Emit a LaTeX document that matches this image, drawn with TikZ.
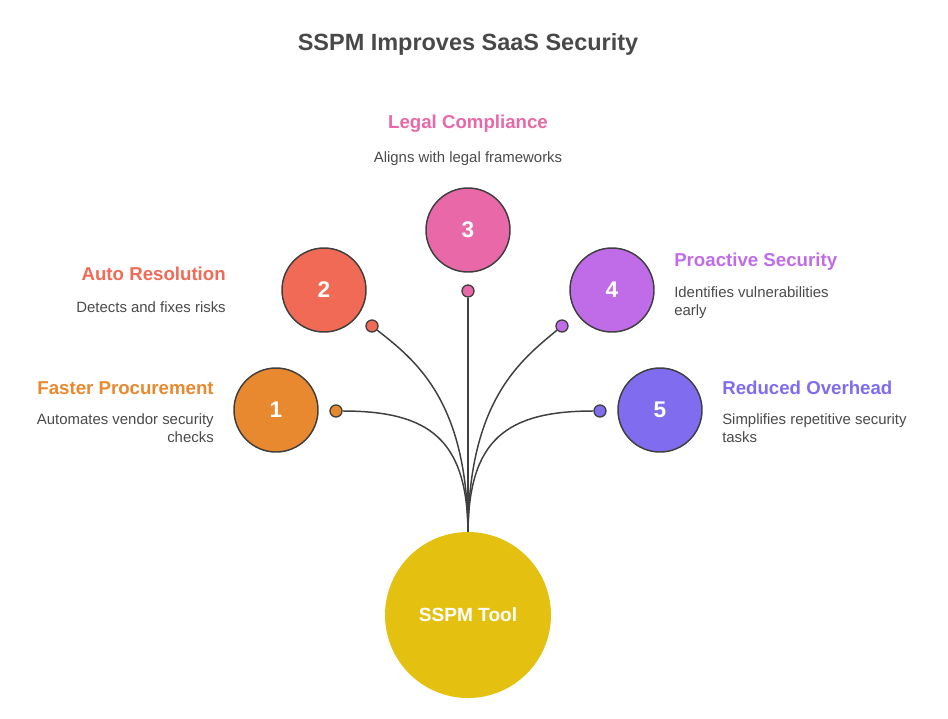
\documentclass[tikz,border=0pt]{standalone}
\usepackage{fontspec}
\setmainfont{Liberation Sans}
\usepackage{tikz}

\definecolor{ink}{HTML}{484848}
\definecolor{textgray}{HTML}{4A4A4A}
\definecolor{edge}{HTML}{3F3F3F}
\definecolor{toolyellow}{HTML}{E4C111}
\definecolor{coral1}{HTML}{E8892F}
\definecolor{coral2}{HTML}{F16A55}
\definecolor{coral3}{HTML}{E868A8}
\definecolor{coral4}{HTML}{C06CE8}
\definecolor{coral5}{HTML}{7F6CEE}

\tikzset{
  numcircle/.style={circle, draw=edge, line width=1.1pt, minimum size=63pt, inner sep=0pt,
    text=white, font=\bfseries\fontsize{17}{20}\selectfont},
  dotcircle/.style={circle, draw=edge, line width=1pt, minimum size=9pt, inner sep=0pt},
  conn/.style={draw=edge, line width=1.1pt},
  heading/.style={inner sep=0pt, font=\bfseries\fontsize{14}{17}\selectfont},
  descr/.style={inner sep=0pt, text=textgray, font=\fontsize{11.2}{13.5}\selectfont}
}

\begin{document}
\begin{tikzpicture}[x=0.75pt,y=-0.75pt]
                \useasboundingbox (0,0) rectangle (948,718);
                \node[text=ink, font=\bfseries\fontsize{17.6}{21}\selectfont] (title) at (468,44) {SSPM Improves SaaS Security};

                \node[circle, fill=toolyellow, minimum size=124.5pt, inner sep=0pt, text=white,
                      font=\bfseries\fontsize{14.3}{17}\selectfont] (tool) at (468,615) {SSPM Tool};

                \foreach \n/\x/\y in {1/276/410, 2/324/290, 3/468/230, 4/612/290, 5/660/410}{
                    \node[numcircle, fill=coral\n] (c\n) at (\x,\y) {\n};
                }
                \foreach \n/\x/\y in {1/336/411, 2/372/326, 3/468/291, 4/562/326, 5/600/411}{
                    \node[dotcircle, fill=coral\n] (d\n) at (\x,\y) {};
                }

                \draw[conn] (d1) .. controls (430,411) and (467,440) .. (tool.north);
                \draw[conn] (d2) .. controls (415,360) and (467,400) .. (tool.north);
                \draw[conn] (d3) -- (tool.north);
                \draw[conn] (d4) .. controls (521,360) and (469,400) .. (tool.north);
                \draw[conn] (d5) .. controls (506,411) and (469,440) .. (tool.north);

                \node[heading, text=coral1, anchor=east] (h1) at (214,388) {Faster Procurement};
                \node[descr, anchor=north east, align=right] (t1) at (214,413) {Automates vendor security\\checks};
                \node[heading, text=coral2, anchor=east] (h2) at (226,274) {Auto Resolution};
                \node[descr, anchor=north east, align=right] (t2) at (226,301) {Detects and fixes risks};
                \node[heading, text=coral3] (h3) at (468,124) {Legal Compliance};
                \node[descr, anchor=north] (t3) at (468,151) {Aligns with legal frameworks};
                \node[heading, text=coral4, anchor=west] (h4) at (674,262) {Proactive Security};
                \node[descr, anchor=north west, align=left] (t4) at (674,286) {Identifies vulnerabilities\\early};
                \node[heading, text=coral5, anchor=west] (h5) at (722,388) {Reduced Overhead};
                \node[descr, anchor=north west, align=left] (t5) at (722,413) {Simplifies repetitive security\\tasks};
            \end{tikzpicture}
\end{document}
